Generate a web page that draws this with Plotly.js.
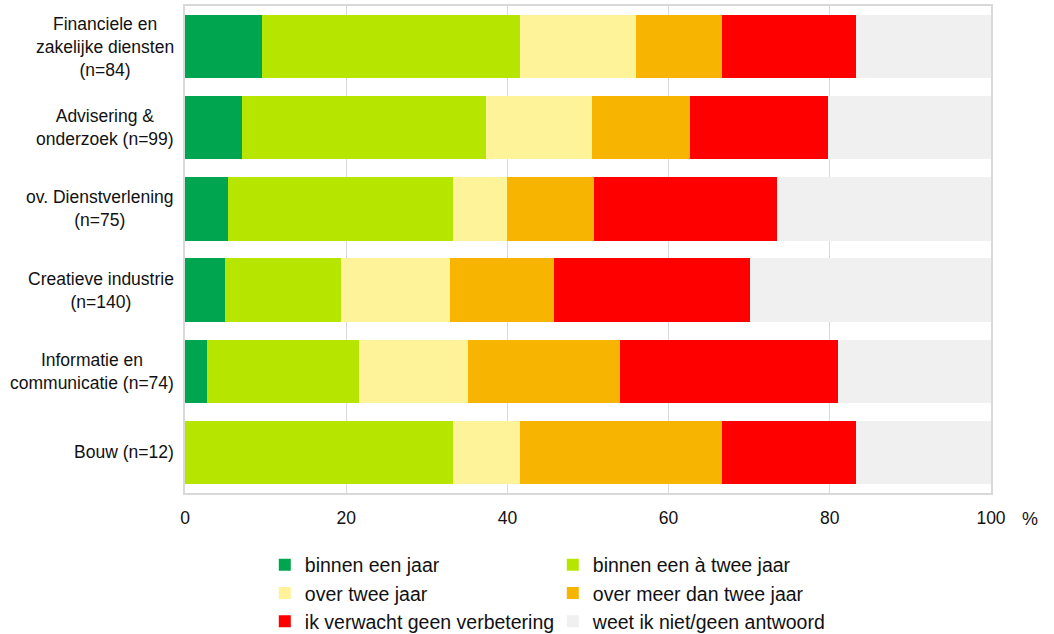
<!DOCTYPE html>
<html>
<head>
<meta charset="utf-8">
<script src="https://cdn.plot.ly/plotly-3.0.1.min.js"></script>
<style>html,body{margin:0;padding:0;background:#fff;}#chart{width:1054px;height:634px;}</style>
</head>
<body>
<div id="chart"></div>
<script>
var categories = [
  "Financiele en<br>zakelijke diensten<br>(n=84)",
  "Advisering &<br>onderzoek (n=99)",
  "ov. Dienstverlening<br>(n=75)",
  "Creatieve industrie<br>(n=140)",
  "Informatie en<br>communicatie (n=74)",
  "Bouw (n=12)"
];
var seriesNames = [
  "binnen een jaar",
  "binnen een à twee jaar",
  "over twee jaar",
  "over meer dan twee jaar",
  "ik verwacht geen verbetering",
  "weet ik niet/geen antwoord"
];
var binnenEenJaar       = [9.5, 7.1, 5.3, 5.0, 2.7, 0.0];
var binnenEenATweeJaar  = [32.1, 30.3, 28.0, 14.3, 18.9, 33.3];
var overTweeJaar        = [14.3, 13.1, 6.7, 13.6, 13.5, 8.3];
var overMeerDanTweeJaar = [10.7, 12.1, 10.7, 12.9, 18.9, 25.0];
var geenVerbetering     = [16.7, 17.2, 22.7, 24.3, 27.0, 16.7];
var weetNiet            = [16.7, 20.2, 26.7, 30.0, 19.0, 16.7];
var xTicks = [0, 20, 40, 60, 80, 100];
var unitLabel = "%";

var seriesValues = [binnenEenJaar, binnenEenATweeJaar, overTweeJaar, overMeerDanTweeJaar, geenVerbetering, weetNiet];
var colors = ["#00a54f", "#b6e600", "#fff39a", "#f7b400", "#ff0000", "#f0f0f0"];

var traces = seriesValues.map(function(vals, i){
  return {
    type: "bar",
    orientation: "h",
    name: seriesNames[i],
    x: vals,
    y: categories,
    marker: {color: colors[i], line: {width: 0}},
    hoverinfo: "skip"
  };
});

var annotations = categories.map(function(c){
  return {
    xref: "paper", yref: "y", x: 0, y: c,
    xanchor: "right", yanchor: "middle", xshift: -9,
    align: "center", showarrow: false, text: c,
    font: {family: "Liberation Sans, Arial, sans-serif", size: 17.5, color: "#111"}
  };
});
annotations.push({
  xref: "paper", yref: "paper", x: 1.048, y: -0.0534,
  xanchor: "center", yanchor: "middle", showarrow: false, text: unitLabel,
  font: {family: "Liberation Sans, Arial, sans-serif", size: 18, color: "#111"}
});

var layout = {
  width: 1054, height: 634,
  margin: {l: 185, r: 63, t: 6, b: 141, pad: 0, autoexpand: false},
  paper_bgcolor: "#fff", plot_bgcolor: "#fff",
  barmode: "stack",
  bargap: 0.22,
  font: {family: "Liberation Sans, Arial, sans-serif", color: "#111"},
  xaxis: {
    range: [0, 100], tickvals: xTicks, ticktext: xTicks.map(String),
    showgrid: true, gridcolor: "#d9d9d9", gridwidth: 1,
    showline: true, linecolor: "#d9d9d9", linewidth: 2, mirror: true,
    zeroline: false, ticks: "", tickfont: {size: 17.5, color: "#111"},
    ticklabelstandoff: 8, fixedrange: true
  },
  yaxis: {
    type: "category", autorange: "reversed", categoryorder: "array", categoryarray: categories,
    showticklabels: false, showgrid: false,
    showline: true, linecolor: "#d9d9d9", linewidth: 2, mirror: true,
    zeroline: false, ticks: "", fixedrange: true
  },
  showlegend: true,
  legend: {
    orientation: "h", traceorder: "normal",
    x: 0.099, xanchor: "left", y: -0.1078, yanchor: "top",
    entrywidthmode: "pixels", entrywidth: 243,
    font: {size: 19.5, color: "#111"},
    itemclick: false, itemdoubleclick: false,
    bgcolor: "rgba(0,0,0,0)", tracegroupgap: 0
  },
  annotations: annotations
};

Plotly.newPlot("chart", traces, layout, {staticPlot: true, displayModeBar: false});
</script>
</body>
</html>
